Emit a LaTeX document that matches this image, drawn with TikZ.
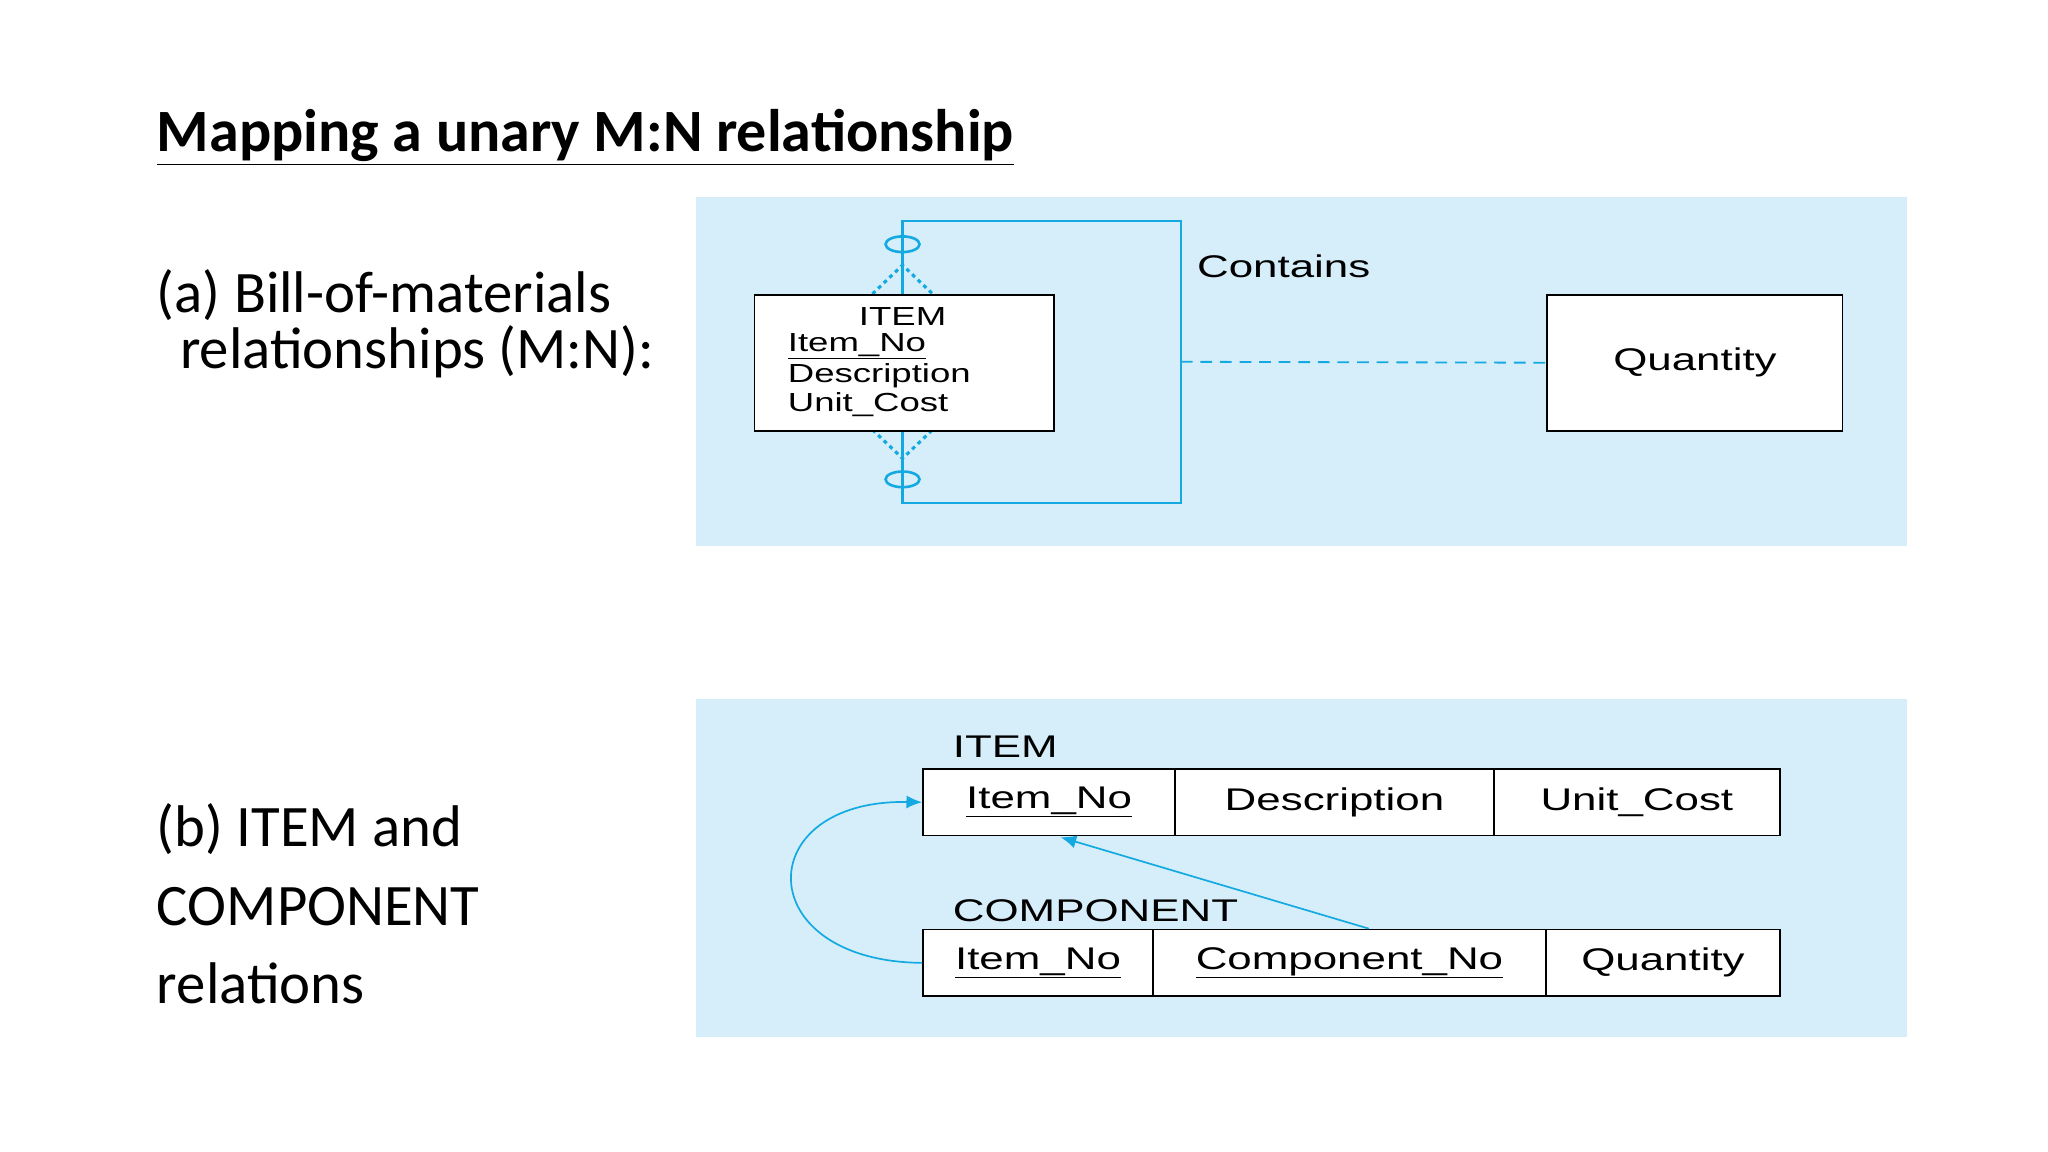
\documentclass[tikz,border=0pt]{standalone}
\usepackage{fontspec}
\setmainfont{Carlito}
\newfontfamily\erf[FakeStretch=1.4]{Liberation Sans}
\usetikzlibrary{arrows.meta}
\definecolor{panel}{RGB}{213,238,250}
\definecolor{ln}{RGB}{20,170,225}
\begin{document}
\begin{tikzpicture}[x=1pt,y=-1pt,
  er/.style={font=\erf\fontsize{24}{26}\selectfont},
  ers/.style={font=\erf\fontsize{20}{22}\selectfont,inner sep=0pt},
  cell/.style={draw=black,line width=1.4pt,fill=white,minimum height=51pt,inner sep=0pt,anchor=north west,er},
  rel/.style={draw=ln,line width=1.8pt},
  big/.style={font=\fontsize{45}{45}\selectfont,anchor=west,align=left}]
\useasboundingbox (0,0) rectangle (1568,882);
\node[font=\bfseries\fontsize{46}{50}\selectfont,anchor=west,inner sep=0pt] (title) at (120,105) {\underline{Mapping a unary M:N relationship}};
\node[big,inner sep=0pt] (ta) at (120,248) {(a) Bill-of-materials\\[-2pt]\ \,relationships (M:N):};
\node[big,inner sep=0pt,font=\fontsize{45}{60}\selectfont] (tb) at (120,692) {(b) ITEM and\\COMPONENT\\relations};
% panel a
\fill[panel] (533,151) rectangle (1460,418);
\draw[rel] (691,225) -- (691,169) -- (904,169) -- (904,385) -- (691,385) -- (691,329);
\draw[ln,line width=2.4pt,dash pattern=on 3pt off 3pt] (668,225) -- (691,203) -- (714,225);
\draw[ln,line width=2.4pt,dash pattern=on 3pt off 3pt] (668,329) -- (691,351) -- (714,329);
\draw[ln,line width=2pt] (691,187) ellipse (13 and 6);
\draw[ln,line width=2pt] (691,367) ellipse (13 and 6);
\node[draw=black,line width=1.4pt,fill=white,minimum width=229pt,minimum height=104pt,anchor=north west] (item) at (577,225) {};
\node[ers] (it) at (691,242) {ITEM};
\node[ers,anchor=west] (ino) at (603,265) {\underline{Item\_No}};
\node[ers,anchor=west] (desc) at (603,288) {Description};
\node[ers,anchor=west] (uc) at (603,310) {Unit\_Cost};
\coordinate (rel) at (904,277);
\node[cell,minimum width=226pt,minimum height=104pt] (qty) at (1184,225) {Quantity};
\draw[ln,line width=1.4pt,dash pattern=on 9pt off 6pt] (rel) -- (qty.west);
\node[er,anchor=west] (contains) at (913,204) {Contains};
% panel b
\fill[panel] (533,535) rectangle (1460,794);
\node[er,anchor=west] (litem) at (726,572) {ITEM};
\node[cell,minimum width=193pt] (b1) at (706,588) {\underline{Item\_No}};
\node[cell,minimum width=244pt] (b2) at (899,588) {Description};
\node[cell,minimum width=219pt] (b3) at (1143,588) {Unit\_Cost};
\node[er,anchor=west] (lcomp) at (726,697) {COMPONENT};
\node[cell,minimum width=176pt] (c1) at (706,711) {\underline{Item\_No}};
\node[cell,minimum width=301pt] (c2) at (882,711) {\underline{Component\_No}};
\node[cell,minimum width=179pt] (c3) at (1183,711) {Quantity};
\draw[ln,line width=1.3pt,-{Latex[length=12pt,width=10pt]}] (c1.west) .. controls (574,736) and (574,612) .. (b1.west);
\draw[ln,line width=1.3pt,-{Latex[length=12pt,width=10pt]}] (1048,711) -- (812,641);
\end{tikzpicture}
\end{document}
